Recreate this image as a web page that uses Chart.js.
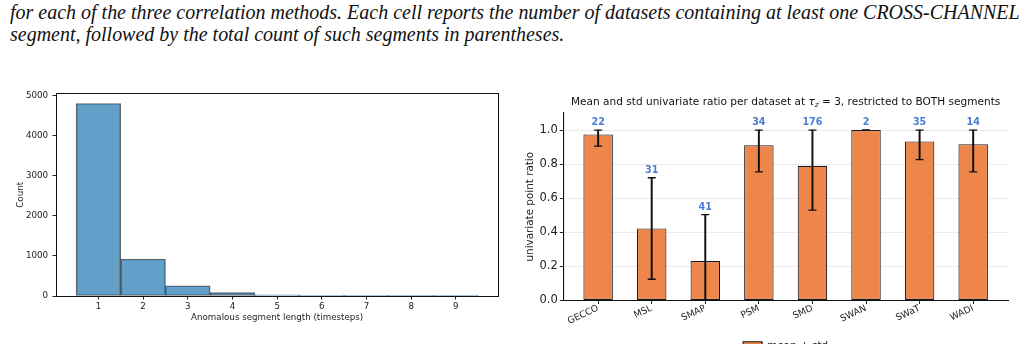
<!DOCTYPE html>
<html>
<head>
<meta charset="utf-8">
<script src="https://cdn.jsdelivr.net/npm/chart.js@4.4.1/dist/chart.umd.min.js"></script>
<style>
  html, body { margin: 0; padding: 0; background: #fff; width: 1025px; height: 344px; overflow: hidden; }
  .caption { position: absolute; left: 10px; font-family: 'Liberation Serif', 'DejaVu Serif', serif; font-style: italic; font-size: 19.5px; color: #111; white-space: nowrap; line-height: 1; }
  canvas { position: absolute; }
</style>
</head>
<body>
<div class="caption" id="line1" style="top:2px">for each of the three correlation methods. Each cell reports the number of datasets containing at least one CROSS-CHANNEL</div>
<div class="caption" id="line2" style="top:24px">segment, followed by the total count of such segments in parentheses.</div>
<canvas id="hist" width="510" height="264" style="left:0;top:80px"></canvas>
<canvas id="ratio" width="510" height="276" style="left:515px;top:85px"></canvas>
<script>
// histogram data
const segLengths = [1, 2, 3, 4, 5, 6, 7, 8, 9];
const segCounts = [4810, 925, 255, 85, 28, 3, 4, 1, 1];
const countTicks = [0, 1000, 2000, 3000, 4000, 5000];

// per dataset ratio data
const datasetNames = ['GECCO', 'MSL', 'SMAP', 'PSM', 'SMD', 'SWAN', 'SWaT', 'WADI'];
const meanRatio = [0.974, 0.422, 0.231, 0.911, 0.790, 1.0, 0.933, 0.917];
const errLow = [0.905, 0.124, 0.0, 0.755, 0.530, 1.0, 0.826, 0.755];
const errHigh = [1.0, 0.720, 0.503, 1.0, 1.0, 1.0, 1.0, 1.0];
const segmentTotals = [22, 31, 41, 34, 176, 2, 35, 14];
const ratioTicks = [0, 0.2, 0.4, 0.6, 0.8, 1.0];

Chart.defaults.font.family = 'DejaVu Sans';
Chart.defaults.color = '#222';
Chart.defaults.animation = false;

// fit caption line to its width in the picture
const line1 = document.getElementById('line1');
const fs = 19.5 * 1010 / line1.getBoundingClientRect().width;
document.querySelectorAll('.caption').forEach(el => el.style.fontSize = fs + 'px');

// left: histogram
new Chart(document.getElementById('hist'), {
  type: 'bar',
  data: {
    datasets: [{
      data: segLengths.map((x, i) => ({ x: x, y: segCounts[i] })),
      backgroundColor: 'rgba(31,119,180,0.7)',
      borderColor: 'rgba(0,0,0,0.6)',
      borderWidth: 1,
      borderSkipped: false,
      barPercentage: 1,
      categoryPercentage: 1
    }]
  },
  options: {
    responsive: false,
    layout: { padding: { left: 0, right: 11.7, top: 13.7, bottom: 0 } },
    plugins: { legend: { display: false }, tooltip: { enabled: false } },
    scales: {
      x: {
        type: 'linear', min: 0.05, max: 9.95, offset: false,
        afterBuildTicks: s => { s.ticks = segLengths.map(v => ({ value: v })); },
        afterFit: s => { s.height = 48; },
        ticks: { font: { size: 8.7 }, padding: 2, color: '#222' },
        grid: { offset: false, drawOnChartArea: false, tickLength: 3.5, tickColor: '#222' },
        border: { color: '#111', width: 1 },
        title: { display: true, text: 'Anomalous segment length (timesteps)', font: { size: 8.7 }, padding: { top: 0, bottom: 20.8 }, color: '#222' }
      },
      y: {
        min: 0, max: 5055,
        afterBuildTicks: s => { s.ticks = countTicks.map(v => ({ value: v })); },
        afterFit: s => { s.width = 56; },
        ticks: { font: { size: 8.7 }, padding: 4.5, color: '#222', callback: v => String(v) },
        grid: { drawOnChartArea: false, tickLength: 3.5, tickColor: '#222' },
        border: { color: '#111', width: 1 },
        title: { display: true, text: 'Count', font: { size: 8.7 }, padding: { top: 15.3, bottom: 0 }, color: '#222' }
      },
      xTop: {
        type: 'linear', position: 'top', display: true,
        ticks: { display: false }, grid: { display: false, drawTicks: false },
        border: { color: '#111', width: 1 },
        afterFit: s => { s.height = 0; }
      },
      yRight: {
        type: 'linear', position: 'right', display: true,
        ticks: { display: false }, grid: { display: false, drawTicks: false },
        border: { color: '#111', width: 1 },
        afterFit: s => { s.width = 0; }
      }
    }
  }
});

// right: title with tau_z and the count labels
const ratioTitle = {
  id: 'ratioTitle',
  afterDraw(chart) {
    const ctx = chart.ctx;
    const area = chart.chartArea;
    const size = 10.55;
    const a = 'Mean and std univariate ratio per dataset at ';
    const b = ' = 3, restricted to BOTH segments';
    const reg = size + 'px DejaVu Sans';
    const ita = 'italic ' + size + 'px DejaVu Sans';
    const sub = 'italic ' + (size * 0.7) + 'px DejaVu Sans';
    ctx.save();
    ctx.fillStyle = '#111';
    ctx.textBaseline = 'alphabetic';
    ctx.font = reg; const wa = ctx.measureText(a).width; const wb = ctx.measureText(b).width;
    ctx.font = ita; const wt = ctx.measureText('τ').width;
    ctx.font = sub; const wz = ctx.measureText('z').width;
    let x = (area.left + area.right) / 2 - (wa + wt + wz + wb) / 2;
    const y = 20;
    ctx.font = reg; ctx.fillText(a, x, y); x += wa;
    ctx.font = ita; ctx.fillText('τ', x, y); x += wt;
    ctx.font = sub; ctx.fillText('z', x, y + 2); x += wz;
    ctx.font = reg; ctx.fillText(b, x, y);
    ctx.restore();
  },
  afterDatasetsDraw(chart) {
    const ctx = chart.ctx;
    const xs = chart.scales.x, ys = chart.scales.y;
    ctx.save();
    ctx.font = 'bold 9.6px DejaVu Sans';
    ctx.fillStyle = '#4a7cd6';
    ctx.textAlign = 'center';
    ctx.textBaseline = 'alphabetic';
    segmentTotals.forEach((n, i) => {
      ctx.fillText(String(n), xs.getPixelForValue(i), ys.getPixelForValue(errHigh[i]) - 5);
    });
    ctx.restore();
  }
};

new Chart(document.getElementById('ratio'), {
  type: 'bar',
  data: {
    datasets: [
      {
        label: 'mean ± std',
        data: meanRatio.map((v, i) => ({ x: i, y: v })),
        backgroundColor: '#ee854a',
        borderColor: '#1a1a1a',
        borderWidth: 1.1,
        borderSkipped: false,
        barPercentage: 0.55,
        categoryPercentage: 1,
        grouped: false,
        order: 2
      },
      {
        label: 'err',
        data: meanRatio.map((v, i) => ({ x: i, y: [errLow[i], errHigh[i]] })),
        backgroundColor: '#111',
        borderWidth: 0,
        barThickness: 1.3,
        grouped: false,
        order: 1
      },
      {
        type: 'line', label: 'capHi',
        data: errHigh.map((v, i) => ({ x: i, y: v })),
        showLine: false, pointStyle: 'line', pointRadius: 4, pointBorderWidth: 1.3,
        pointBorderColor: '#111', order: 0
      },
      {
        type: 'line', label: 'capLo',
        data: errLow.map((v, i) => ({ x: i, y: v })),
        showLine: false, pointStyle: 'line', pointRadius: 4, pointBorderWidth: 1.3,
        pointBorderColor: '#111', order: 0
      }
    ]
  },
  options: {
    responsive: false,
    layout: { padding: { left: 0, right: 17, top: 28, bottom: 0 } },
    plugins: {
      tooltip: { enabled: false },
      legend: {
        position: 'bottom',
        fullSize: false,
        labels: {
          filter: item => item.datasetIndex === 0,
          boxWidth: 19, boxHeight: 8, padding: 2,
          font: { size: 10.4 }, color: '#222'
        }
      }
    },
    scales: {
      x: {
        type: 'linear', min: -0.65, max: 7.65, offset: false,
        afterBuildTicks: s => { s.ticks = datasetNames.map((n, i) => ({ value: i })); },
        afterFit: s => { s.height = 38.2; },
        ticks: { font: { size: 9.2 }, padding: -1, minRotation: 25, maxRotation: 25, color: '#222', callback: v => datasetNames[v] },
        grid: { offset: false, drawOnChartArea: false, tickLength: 3.5, tickColor: '#222' },
        border: { color: '#111', width: 1.1 }
      },
      y: {
        min: 0, max: 1.1,
        afterBuildTicks: s => { s.ticks = ratioTicks.map(v => ({ value: v })); },
        afterFit: s => { s.width = 48.3; },
        ticks: { font: { size: 11.5 }, padding: 2, color: '#222', callback: v => v.toFixed(1) },
        grid: { color: '#ebebeb', lineWidth: 1, tickLength: 3.5, tickColor: '#222' },
        border: { color: '#111', width: 1.1 },
        title: { display: true, text: 'univariate point ratio', font: { size: 10.4 }, padding: { top: 9.5, bottom: 0 }, color: '#222' }
      }
    }
  },
  plugins: [ratioTitle]
});
</script>
</body>
</html>
